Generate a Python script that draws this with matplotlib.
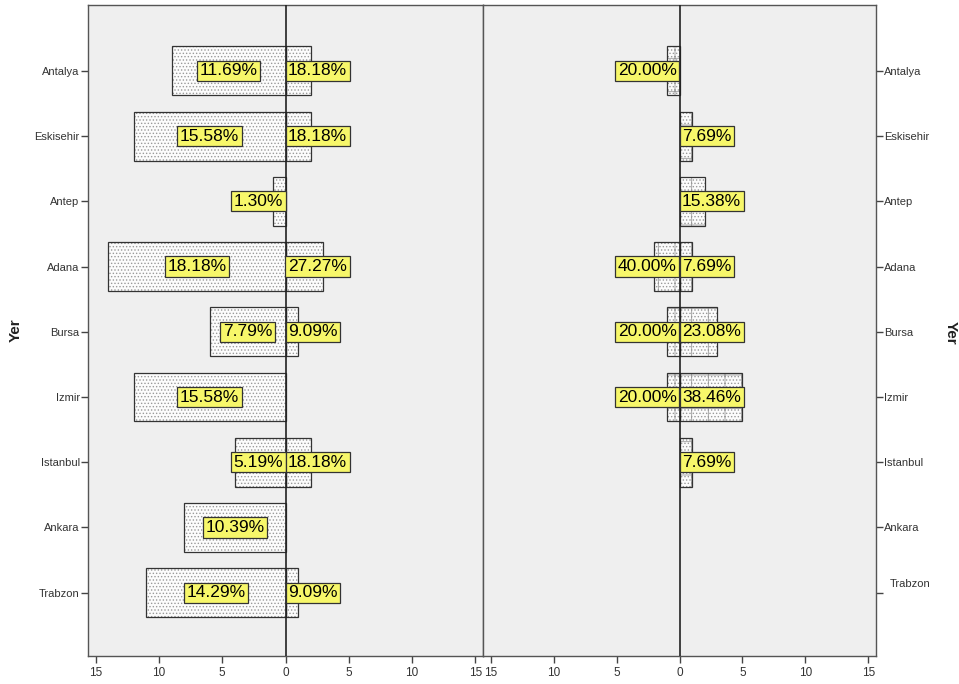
import numpy as np
import matplotlib
matplotlib.use("Agg")
import matplotlib.pyplot as plt

# ---- data ----
categories = ['Antalya', 'Eskisehir', 'Antep', 'Adana', 'Bursa', 'Izmir', 'Istanbul', 'Ankara', 'Trabzon']
left_panel_neg = [9, 12, 1, 14, 6, 12, 4, 8, 11]   # bars to the left in left panel
left_panel_pos = [2, 2, 0, 3, 1, 0, 2, 0, 1]       # bars to the right in left panel
right_panel_neg = [1, 0, 0, 2, 1, 1, 0, 0, 0]      # bars to the left in right panel
right_panel_pos = [0, 1, 2, 1, 3, 5, 1, 0, 0]      # bars to the right in right panel
x_ticks = [-15, -10, -5, 0, 5, 10, 15]
x_tick_labels = ['15', '10', '5', '0', '5', '10', '15']
axis_title = 'Yer'

plt.rcParams['font.family'] = ['Liberation Sans', 'DejaVu Sans']
plt.rcParams['hatch.linewidth'] = 0.6

fig = plt.figure(figsize=(9.59, 6.84), dpi=100)
top = 1 - 5 / 684
bottom = 1 - 656 / 684
axL = fig.add_axes([88 / 959, bottom, (483 - 88) / 959, top - bottom])
axR = fig.add_axes([483 / 959, bottom, (876 - 483) / 959, top - bottom])

y = np.arange(len(categories))
bar_h = 0.75
labels = []  # (text, side, ax)

def draw_panel(ax, neg, pos, hatch):
    ax.set_facecolor('#EFEFEF')
    neg = np.array(neg, dtype=float)
    pos = np.array(pos, dtype=float)
    for vals, sign in ((neg, -1), (pos, 1)):
        m = vals > 0
        ax.barh(y[m], sign * vals[m], height=bar_h, color='#FCFCFC', edgecolor='#9a9a9a',
                hatch=hatch, linewidth=0, zorder=2)
        ax.barh(y[m], sign * vals[m], height=bar_h, fill=False, edgecolor='#333333',
                linewidth=0.9, zorder=3)
    ax.axvline(0, color='#222222', lw=1.2, zorder=4)
    for vals, sign in ((neg, -1), (pos, 1)):
        tot = vals.sum()
        for yi, v in zip(y, vals):
            if v <= 0:
                continue
            t = ax.text(sign * v / 2, yi, f'{v / tot * 100:.2f}%', ha='center', va='center',
                        fontsize=12.5, color='black', zorder=6,
                        bbox=dict(boxstyle='square,pad=0.15', facecolor='#F7F76A',
                                  edgecolor='#333333', linewidth=0.9))
            labels.append((t, sign, ax))
    ax.set_xlim(-15.6, 15.6)
    ax.set_ylim(8.97, -1.01)
    ax.set_xticks(x_ticks)
    ax.set_xticklabels(x_tick_labels)
    ax.tick_params(axis='x', direction='out', length=5, width=1, color='#444444',
                   labelsize=8.5, labelcolor='#333333', pad=3)
    for s in ax.spines.values():
        s.set_color('#555555')
        s.set_linewidth(1.0)

draw_panel(axL, left_panel_neg, left_panel_pos, '.....')
draw_panel(axR, right_panel_neg, right_panel_pos, '+.....')

axL.set_yticks(y)
axL.set_yticklabels(categories)
axL.tick_params(axis='y', direction='out', length=5, width=1, color='#444444',
                labelsize=8, labelcolor='#333333', pad=1)

axR.set_yticks(y)
rlabels = list(categories)
rlabels[-1] = ''
axR.set_yticklabels(rlabels)
axR.yaxis.tick_right()
axR.tick_params(axis='y', direction='out', length=5, width=1, color='#444444',
                labelsize=8, labelcolor='#333333', pad=1)
axR.text(1.0 + 14 / 393, (8.97 - 8 + 0.14) / 9.98, categories[-1], transform=axR.transAxes,
         fontsize=8, color='#333333', ha='left', va='center')

fig.text(16 / 959, 1 - 330 / 684, axis_title, rotation=90, fontsize=11, fontweight='bold',
         ha='center', va='center', color='#222222')
fig.text(951 / 959, 1 - 333 / 684, axis_title, rotation=-90, fontsize=11, fontweight='bold',
         ha='center', va='center', color='#222222')

# keep labels from crossing the centre line
fig.canvas.draw()
renderer = fig.canvas.get_renderer()
for t, sign, ax in labels:
    bb = t.get_bbox_patch().get_window_extent(renderer)
    px0 = ax.transData.transform((0, 0))[0]
    ppu = ax.transData.transform((1, 0))[0] - px0
    x, yy = t.get_position()
    if sign > 0 and bb.x0 < px0:
        t.set_position((x + (px0 - bb.x0) / ppu, yy))
    elif sign < 0 and bb.x1 > px0:
        t.set_position((x - (bb.x1 - px0) / ppu, yy))

fig.savefig('out.png', dpi=100, facecolor='white')
